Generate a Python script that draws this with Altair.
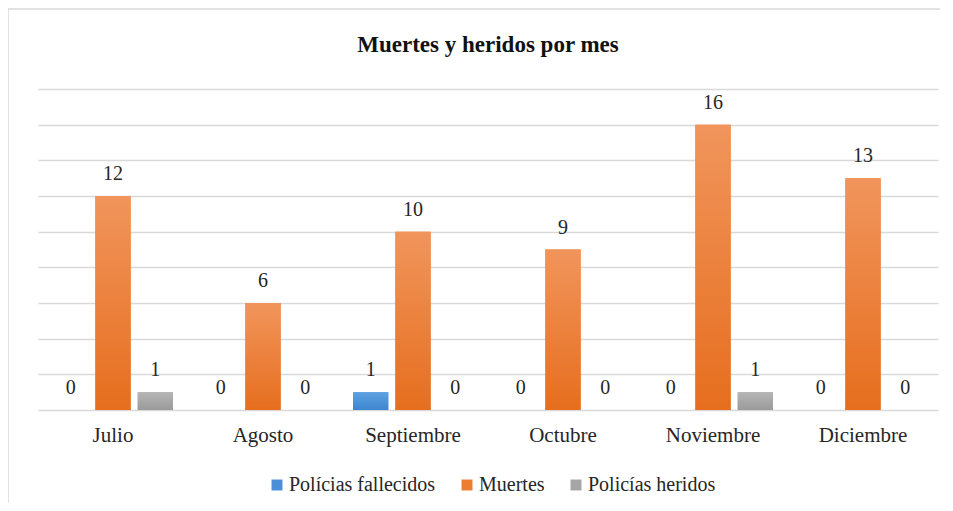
import altair as alt
import pandas as pd

months = ["Julio", "Agosto", "Septiembre", "Octubre", "Noviembre", "Diciembre"]
series = ["Polícias fallecidos", "Muertes", "Policías heridos"]
policias_fallecidos = [0, 0, 1, 0, 0, 0]
muertes = [12, 6, 10, 9, 16, 13]
policias_heridos = [1, 0, 0, 0, 1, 0]
y_ticks = [0, 2, 4, 6, 8, 10, 12, 14, 16, 18]

colors = ["#4a8fd8", "#ed7d31", "#a5a5a5"]
grads = [("#5ea2e2", "#3e85cf"), ("#f1955c", "#e66e1e"), ("#b6b6b6", "#9a9a9a")]

rows = []
for vals, s in zip([policias_fallecidos, muertes, policias_heridos], series):
    for m, v in zip(months, vals):
        rows.append({"mes": m, "serie": s, "valor": v})
df = pd.DataFrame(rows)

FONT = "Liberation Serif"

x = alt.X("mes:N", sort=months, title=None,
          scale=alt.Scale(paddingInner=0.2, paddingOuter=0.1),
          axis=alt.Axis(labelAngle=0, ticks=False, domain=False, labelFontSize=21,
                        labelFont=FONT, labelColor="#262626", labelPadding=14, grid=False))
xo = alt.XOffset("serie:N", sort=series, scale=alt.Scale(paddingInner=0.167, paddingOuter=0))
y = alt.Y("valor:Q", title=None,
          scale=alt.Scale(domain=[0, 18], nice=False),
          axis=alt.Axis(values=y_ticks, labels=False, ticks=False, domain=False,
                        grid=True, gridColor="#d9d9d9", gridWidth=1.3))

base = alt.Chart(df)

bars = base.mark_bar().encode(
    x=x, xOffset=xo, y=y,
    color=alt.Color("serie:N", sort=series,
                    scale=alt.Scale(domain=series, range=colors),
                    legend=alt.Legend(title=None, orient="none", direction="horizontal",
                                      legendX=229, legendY=386,
                                      labelFont=FONT, labelFontSize=20, labelColor="#262626",
                                      symbolType="square", symbolSize=120, symbolStrokeWidth=0,
                                      labelOffset=2, columnPadding=21, labelLimit=300)),
)

layers = [bars]
for s, (top, bot) in zip(series, grads):
    layers.append(
        base.transform_filter(alt.datum.serie == s).mark_bar(
            color={"gradient": "linear", "x1": 0, "x2": 0, "y1": 0, "y2": 1,
                   "stops": [{"offset": 0, "color": top}, {"offset": 1, "color": bot}]}
        ).encode(x=x, xOffset=xo, y=y)
    )

labels = base.mark_text(font=FONT, fontSize=20, color="#262626", baseline="middle", dy=-22).encode(
    x=x, xOffset=xo, y=y, text=alt.Text("valor:Q")
)
layers.append(labels)

# chart-area frame (top and left edges visible in the reference)
frame_src = alt.Chart(pd.DataFrame({"k": [0]}))
frame_top = frame_src.mark_rule(color="#d9d9d9", strokeWidth=1.5).encode(
    x=alt.value(-30), x2=alt.value(930), y=alt.value(-80))
frame_left = frame_src.mark_rule(color="#d9d9d9", strokeWidth=1.5).encode(
    x=alt.value(-30), y=alt.value(-80), y2=alt.value(430))
layers += [frame_top, frame_left]

chart = alt.layer(*layers).properties(
    width=900, height=321,
    background="white",
    title=alt.TitleParams("Muertes y heridos por mes", font=FONT, fontSize=23,
                          fontWeight="bold", color="#111111", anchor="middle", offset=-49),
    autosize=alt.AutoSizeParams(type="none"),
    padding={"left": 30, "top": 81, "right": 2, "bottom": 93},
).configure_view(stroke=None)

chart.save("out.html", embed_options={"renderer": "svg", "actions": False})
